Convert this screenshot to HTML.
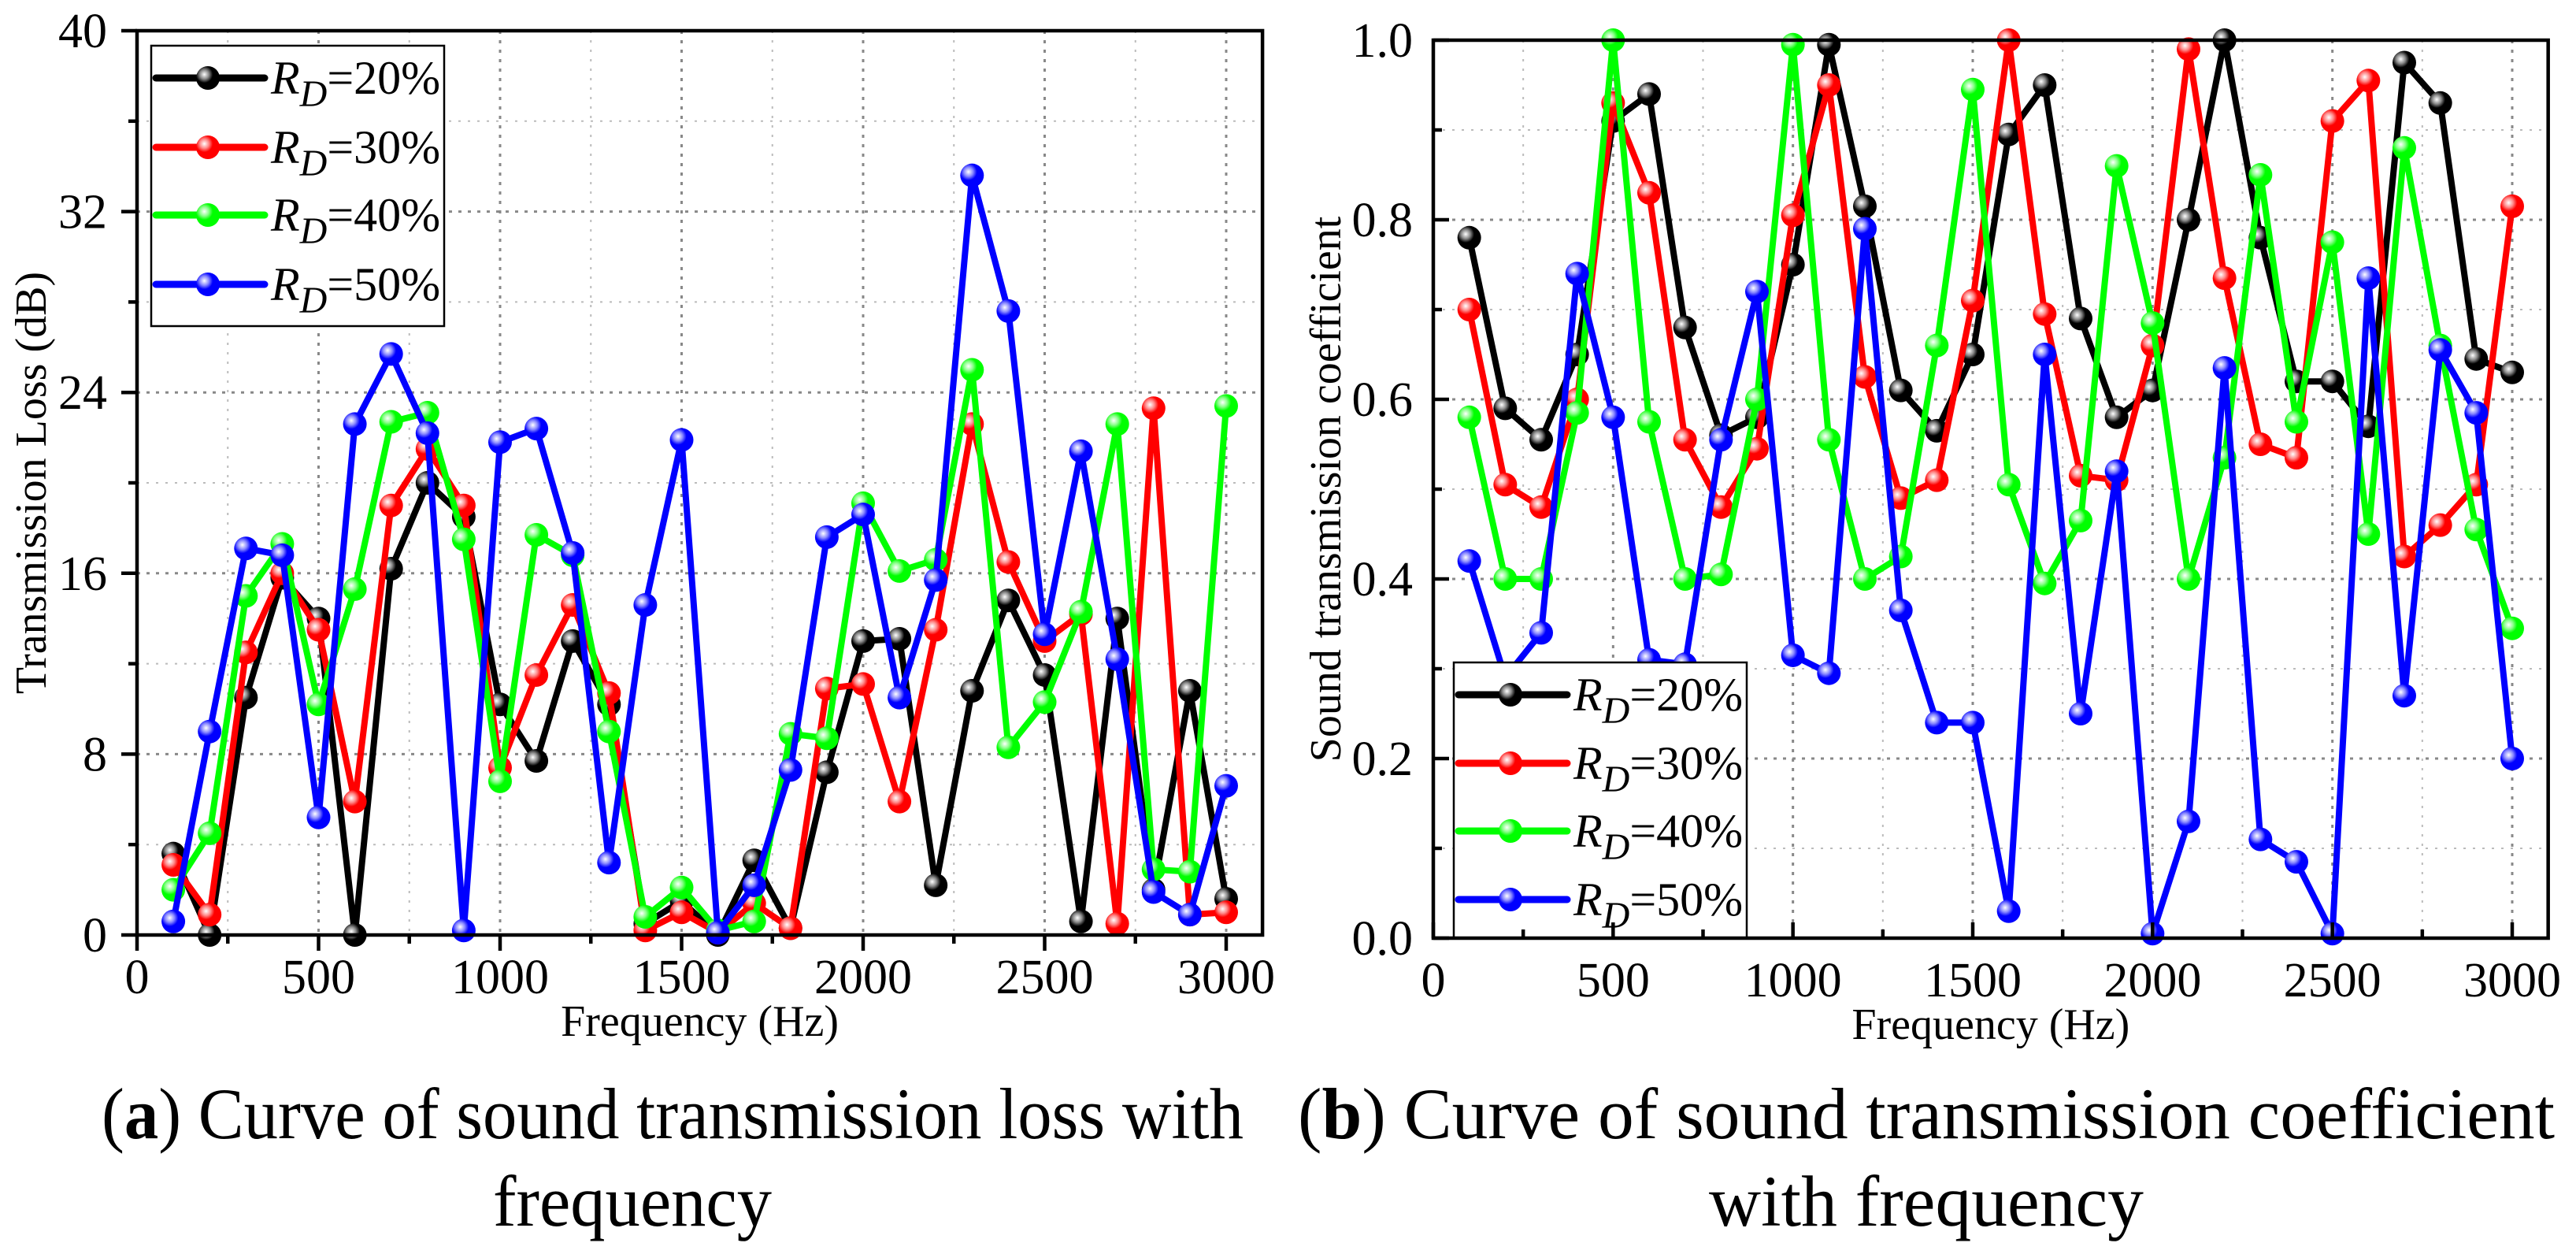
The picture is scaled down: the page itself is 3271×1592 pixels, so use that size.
<!DOCTYPE html>
<html><head><meta charset="utf-8"><style>
html,body{margin:0;padding:0;background:#fff;}
svg{display:block;font-family:"Liberation Serif",serif;}
</style></head><body>
<svg id="fig" width="3271" height="1592" viewBox="0 0 3271 1592" xmlns="http://www.w3.org/2000/svg">
<defs>
<radialGradient id="gk" cx="0.35" cy="0.35" r="0.65"><stop offset="0" stop-color="#fff"/><stop offset="0.3" stop-color="#888"/><stop offset="0.55" stop-color="#000"/></radialGradient>
<radialGradient id="gr" cx="0.35" cy="0.35" r="0.65"><stop offset="0" stop-color="#fff"/><stop offset="0.3" stop-color="#f88"/><stop offset="0.55" stop-color="#f00"/></radialGradient>
<radialGradient id="gg" cx="0.35" cy="0.35" r="0.65"><stop offset="0" stop-color="#fff"/><stop offset="0.3" stop-color="#8f8"/><stop offset="0.55" stop-color="#0f0"/></radialGradient>
<radialGradient id="gb" cx="0.35" cy="0.35" r="0.65"><stop offset="0" stop-color="#fff"/><stop offset="0.3" stop-color="#88f"/><stop offset="0.55" stop-color="#00f"/></radialGradient>
</defs>
<g id="chartA"></g>
<g id="chartB"></g>
<text x="129" y="1445" font-size="92" textLength="1450" lengthAdjust="spacingAndGlyphs">(<tspan font-weight="bold">a</tspan>) Curve of sound transmission loss with</text>
<text x="626" y="1556" font-size="92" textLength="354" lengthAdjust="spacingAndGlyphs">frequency</text>
<text x="1648" y="1445" font-size="92" textLength="1596" lengthAdjust="spacingAndGlyphs">(<tspan font-weight="bold">b</tspan>) Curve of sound transmission coefficient</text>
<text x="2170" y="1556" font-size="92" textLength="552" lengthAdjust="spacingAndGlyphs">with frequency</text>
</svg>
<script>
const freqs = [100,200,300,400,500,600,700,800,900,1000,1100,1200,1300,1400,1500,1600,1700,1800,1900,2000,2100,2200,2300,2400,2500,2600,2700,2800,2900,3000];
const seriesNames = ["20%","30%","40%","50%"];
const tlRD20 = [3.6,0,10.5,15.8,14,0,16.2,20,18.5,10.2,7.7,13,10.2,0.5,1.5,0,3.3,0.3,7.2,13,13.1,2.2,10.8,14.8,11.5,0.6,14,2,10.8,1.6];
const tlRD30 = [3.1,0.9,12.5,16,13.5,5.9,19,21.5,19,7.4,11.5,14.6,10.7,0.2,1,0.1,1.4,0.3,10.9,11.1,5.9,13.5,22.6,16.5,13,14.2,0.5,23.3,0.9,1];
const tlRD40 = [2,4.5,15,17.3,10.2,15.3,22.7,23.1,17.5,6.8,17.7,16.8,9,0.8,2.1,0.2,0.6,8.9,8.7,19.1,16.1,16.6,25,8.3,10.3,14.3,22.6,2.9,2.8,23.4];
const tlRD50 = [0.6,9,17.1,16.8,5.2,22.6,25.7,22.2,0.2,21.8,22.4,16.9,3.2,14.6,21.9,0.1,2.2,7.3,17.6,18.6,10.5,15.7,33.6,27.6,13.3,21.4,12.2,1.9,0.9,6.6];
const tcRD20 = [0.78,0.59,0.555,0.65,0.91,0.94,0.68,0.56,0.58,0.75,0.995,0.815,0.61,0.565,0.65,0.895,0.95,0.69,0.58,0.61,0.8,1.0,0.78,0.62,0.62,0.57,0.975,0.93,0.645,0.63];
const tcRD30 = [0.70,0.505,0.48,0.60,0.93,0.83,0.555,0.48,0.545,0.805,0.95,0.625,0.49,0.51,0.71,1.0,0.695,0.515,0.51,0.66,0.99,0.735,0.55,0.535,0.91,0.955,0.425,0.46,0.505,0.815];
const tcRD40 = [0.58,0.40,0.40,0.585,1.0,0.575,0.40,0.405,0.60,0.995,0.555,0.40,0.425,0.66,0.945,0.505,0.395,0.465,0.86,0.685,0.40,0.535,0.85,0.575,0.775,0.45,0.88,0.66,0.455,0.345];
const tcRD50 = [0.42,0.29,0.34,0.74,0.58,0.31,0.305,0.555,0.72,0.315,0.295,0.79,0.365,0.24,0.24,0.03,0.65,0.25,0.52,0.005,0.13,0.635,0.11,0.085,0.005,0.735,0.27,0.655,0.585,0.20];
const xTicks = [0,500,1000,1500,2000,2500,3000];
const yTicksA = [0,8,16,24,32,40];
const yTicksB = ["0.0","0.2","0.4","0.6","0.8","1.0"];

const NS="http://www.w3.org/2000/svg";
const colors=["#000","#f00","#0f0","#00f"];
const grads=["url(#gk)","url(#gr)","url(#gg)","url(#gb)"];
function mk(parent,tag,attrs){const e=document.createElementNS(NS,tag);for(const k in attrs)e.setAttribute(k,attrs[k]);parent.appendChild(e);return e;}

function drawChart(g,cfg){
  const xs=f=>cfg.x0+(f/3000)*(cfg.x3000-cfg.x0);
  const ys=v=>cfg.yb+(v-cfg.ymin)/(cfg.ymax-cfg.ymin)*(cfg.yt-cfg.yb);
  const right=xs(3100);
  for(let f=250;f<3100;f+=500){const l=mk(g,"line",{x1:xs(f),x2:xs(f),y1:cfg.yt,y2:cfg.yb,stroke:"#bbb","stroke-width":2,"stroke-dasharray":"3 9"});
    
    }
  const ystep=(cfg.ymax-cfg.ymin)/5;
  for(let i=0;i<5;i++){const v=cfg.ymin+ystep*(i+0.5);const l=mk(g,"line",{x1:cfg.x0,x2:right,y1:ys(v),y2:ys(v),stroke:"#bbb","stroke-width":2,"stroke-dasharray":"3 9"});
    
    }
  xTicks.forEach(f=>{if(f>0){const l=mk(g,"line",{x1:xs(f),x2:xs(f),y1:cfg.yt,y2:cfg.yb,stroke:"#888","stroke-width":3,"stroke-dasharray":"4 8"});
    
    }});
  cfg.yTicks.forEach((t,i)=>{const v=cfg.ymin+ystep*i;if(i>0&&i<5){const l=mk(g,"line",{x1:cfg.x0,x2:right,y1:ys(v),y2:ys(v),stroke:"#888","stroke-width":3,"stroke-dasharray":"4 8"});
    
    }});
  cfg.series.forEach((arr,si)=>{
    const pts=arr.map((v,i)=>xs(freqs[i])+","+ys(v)).join(" ");
    const pl=mk(g,"polyline",{points:pts,fill:"none",stroke:colors[si],"stroke-width":8,"stroke-linejoin":"round"});
    
    
    arr.forEach((v,i)=>{const c=mk(g,"circle",{cx:xs(freqs[i]),cy:ys(v),r:15,fill:grads[si]});
      
      });
  });
  const lg=mk(g,"g",{});
  
  
  mk(lg,"rect",{x:cfg.lx,y:cfg.ly,width:372,height:cfg.lh,fill:"#fff",stroke:"#000","stroke-width":2.5});
  cfg.lrows.forEach((ry,si)=>{
    const e=mk(lg,"g",{});
    
    
    mk(e,"line",{x1:cfg.lx+6,x2:cfg.lx+144,y1:ry,y2:ry,stroke:colors[si],"stroke-width":9,"stroke-linecap":"round"});
    mk(e,"circle",{cx:cfg.lx+72,cy:ry,r:15,fill:grads[si]});
    const t=mk(e,"text",{x:cfg.lx+152,y:ry+20,"font-size":60});
    t.innerHTML='<tspan font-style="italic">R</tspan><tspan font-style="italic" font-size="48" dy="16">D</tspan><tspan dy="-16">='+seriesNames[si]+'</tspan>';
  });
  const w=4.5;
  mk(g,"rect",{x:cfg.x0,y:cfg.yt,width:right-cfg.x0,height:cfg.yb-cfg.yt,fill:"none",stroke:"#000","stroke-width":w});
  const dir=cfg.out?1:-1;
  xTicks.forEach(f=>{mk(g,"line",{x1:xs(f),x2:xs(f),y1:cfg.yb,y2:cfg.yb+dir*20,stroke:"#000","stroke-width":w});
    const t=mk(g,"text",{x:xs(f),y:cfg.yb+74,"font-size":62,"text-anchor":"middle"});t.textContent=f;
    
    });
  for(let f=250;f<3100;f+=500)mk(g,"line",{x1:xs(f),x2:xs(f),y1:cfg.yb,y2:cfg.yb+dir*11,stroke:"#000","stroke-width":w});
  cfg.yTicks.forEach((lab,i)=>{const v=cfg.ymin+ystep*i;mk(g,"line",{x1:cfg.x0,x2:cfg.x0-dir*20,y1:ys(v),y2:ys(v),stroke:"#000","stroke-width":w});
    const t=mk(g,"text",{x:cfg.tickRight,y:ys(v)+21,"font-size":62,"text-anchor":"end"});t.textContent=lab;
    
    });
  for(let i=0;i<5;i++){const v=cfg.ymin+ystep*(i+0.5);mk(g,"line",{x1:cfg.x0,x2:cfg.x0-dir*11,y1:ys(v),y2:ys(v),stroke:"#000","stroke-width":w});}
  const xt=mk(g,"text",{x:(cfg.x0+right)/2,y:cfg.yb+128,"font-size":56,"text-anchor":"middle"});xt.textContent="Frequency (Hz)";
  
  
  const yt=mk(g,"text",{x:0,y:0,"font-size":56,"text-anchor":"middle",transform:`translate(${cfg.ytX},${(cfg.yt+cfg.yb)/2}) rotate(-90)`});yt.textContent=cfg.ytitle;
  
  
}
drawChart(document.getElementById("chartA"),{x0:174,x3000:1557,yt:39,yb:1187,ymin:0,ymax:40,yTicks:yTicksA,series:[tlRD20,tlRD30,tlRD40,tlRD50],
  lx:192,ly:58,lh:356,lrows:[99,187,273,361],out:true,tickRight:136,ytX:58,ytitle:"Transmission Loss (dB)"});
drawChart(document.getElementById("chartB"),{x0:1820,x3000:3190,yt:51,yb:1191,ymin:0,ymax:1,yTicks:yTicksB,series:[tcRD20,tcRD30,tcRD40,tcRD50],
  lx:1846,ly:841,lh:350,lrows:[882,969,1055,1142],out:false,tickRight:1794,ytX:1702,ytitle:"Sound transmission coefficient"});
</script>
</body></html>
